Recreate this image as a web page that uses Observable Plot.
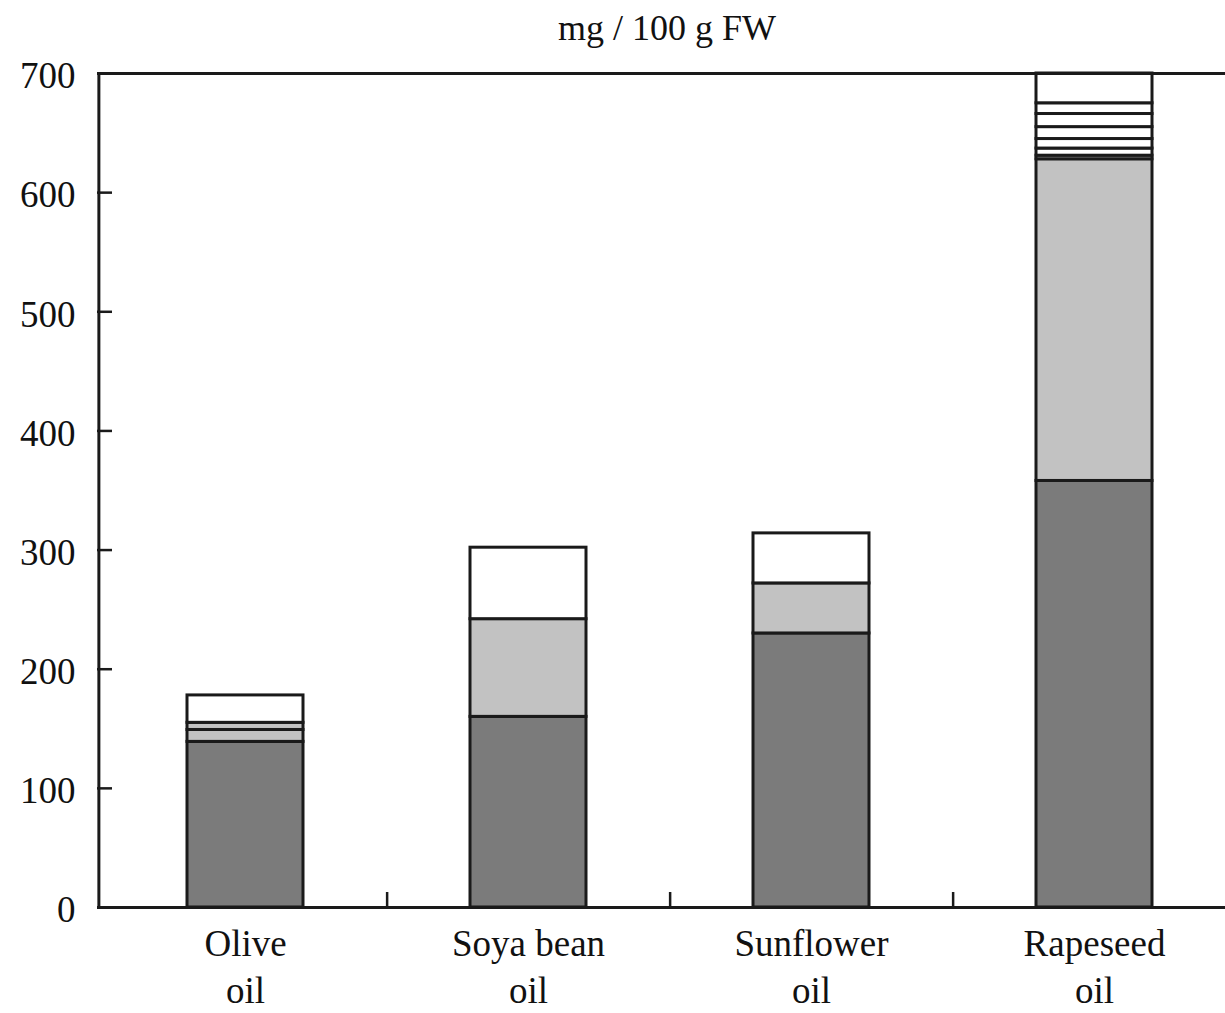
<!DOCTYPE html>
<html>
<head>
<meta charset="utf-8">
<script src="https://cdn.jsdelivr.net/npm/d3@7"></script>
<script src="https://cdn.jsdelivr.net/npm/@observablehq/plot@0.6"></script>
<style>
  body { margin: 0; background: #fff; }
  #title { height: 50px; position: relative; font-family: "Liberation Serif", "Times New Roman", serif; font-size: 36px; color: #111; }
  #title span { position: absolute; left: 667px; top: 7px; transform: translateX(-50%); white-space: nowrap; }
</style>
</head>
<body>
<div id="title"><span>mg / 100 g FW</span></div>
<div id="chart"></div>
<script>
const oils = ["Olive\noil", "Soya bean\noil", "Sunflower\noil", "Rapeseed\noil"];
const components = ["c1", "c2", "c3", "c4", "c5", "c6", "c7", "c8", "c9"];
const fills = ["#7b7b7b", "#c2c2c2", "#c2c2c2", "#ffffff", "#ffffff", "#ffffff", "#ffffff", "#ffffff", "#ffffff"];
const c1 = [139, 160, 230, 358];
const c2 = [10, 82, 42, 270];
const c3 = [6, 0, 0, 3];
const c4 = [0, 0, 0, 6];
const c5 = [0, 0, 0, 8];
const c6 = [0, 0, 0, 10];
const c7 = [0, 0, 0, 11];
const c8 = [0, 0, 0, 9];
const c9 = [23, 60, 42, 25];
const yTicks = [0, 100, 200, 300, 400, 500, 600, 700];

const series = [c1, c2, c3, c4, c5, c6, c7, c8, c9];
const data = [];
components.forEach((c, i) => {
  oils.forEach((o, j) => {
    if (series[i][j] > 0) data.push({oil: o, comp: c, value: series[i][j]});
  });
});

const W = 1225, H = 963;
const mL = 97, mT = 23, mB = 106;
const xRange = [103, 1236];
const pInner = 0.59, pOuter = 0.295;
const step = (xRange[1] - xRange[0]) / (oils.length - pInner + 2 * pOuter);
const firstCenter = xRange[0] + step * pOuter + step * (1 - pInner) / 2;
const plotH = H - mT - mB;

const chart = Plot.plot({
  width: W,
  height: H,
  marginLeft: mL,
  marginRight: 0,
  marginTop: mT,
  marginBottom: mB,
  style: {fontFamily: "'Liberation Serif', 'Times New Roman', serif", fontSize: "37px", color: "#111", background: "#fff"},
  x: {domain: oils, range: xRange, paddingInner: pInner, paddingOuter: pOuter, align: 0.5, label: null},
  y: {domain: [0, 700], label: null},
  color: {domain: components, range: fills},
  marks: [
    Plot.barY(data, {x: "oil", y: "value", fill: "comp", stroke: "#1a1a1a", strokeWidth: 3}),
    Plot.ruleY(yTicks.filter(d => d > 0 && d < 700), {y: d => d, stroke: "#1a1a1a", strokeWidth: 2.5, insetRight: W - mL - 15}),
    Plot.ruleX(oils.slice(0, -1), {x: d => d, dx: step / 2, stroke: "#1a1a1a", strokeWidth: 2.5, insetTop: plotH - 15}),
    Plot.ruleX(oils.slice(0, 1), {x: d => d, dx: mL - firstCenter + 1, stroke: "#1a1a1a", strokeWidth: 3}),
    Plot.ruleY([0, 700], {stroke: "#1a1a1a", strokeWidth: 3}),
    Plot.axisY({ticks: yTicks, tickSize: 0, tickPadding: 22, tickFormat: d => d, fontSize: 37, dy: 3}),
    Plot.axisX({tickSize: 0, tickPadding: 16, fontSize: 37, lineHeight: 1.25})
  ]
});
document.getElementById("chart").appendChild(chart);
</script>
</body>
</html>
